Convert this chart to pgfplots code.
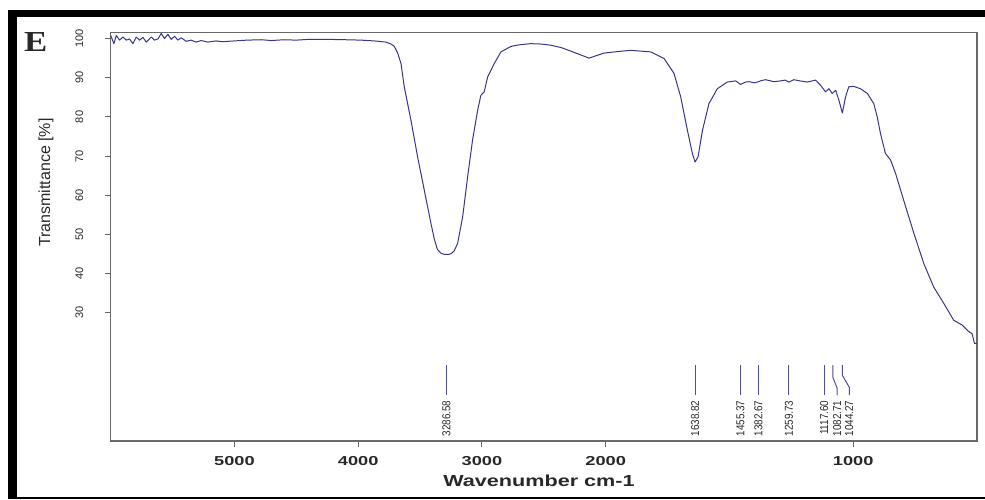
\documentclass[border=0pt]{standalone}
\usepackage{fontspec}
\setmainfont{Liberation Sans}
\newfontfamily\serifE{Liberation Serif}
\usepackage{pgfplots}
\pgfplotsset{compat=1.18}
\definecolor{spec}{RGB}{55,55,135}
\definecolor{peak}{RGB}{80,80,145}
\definecolor{axgray}{RGB}{105,105,105}
\definecolor{txt}{RGB}{40,40,40}
\tikzset{pk/.style={pos=1, yshift=-5pt, rotate=90, anchor=east, xscale=0.86,
  inner sep=0pt, text=txt, font=\fontsize{11.5}{12}\selectfont}}

\begin{document}
\begin{tikzpicture}
\useasboundingbox (0pt,0pt) rectangle (985pt,499pt);
% black frame round the panel
\fill[black] (8.3pt,481.7pt) rectangle (985pt,489pt);
\fill[black] (8.3pt,0pt) rectangle (16.7pt,489pt);
\fill[black] (8.3pt,0pt) rectangle (985pt,2.4pt);
\node[font=\serifE\bfseries\fontsize{29}{30}\selectfont, xscale=1.2, text=txt] at (35.8pt,457.3pt) {E};
\node[rotate=90, font=\fontsize{16}{18}\selectfont, text=txt] at (46pt,316.5pt) {Transmittance [\%]};
\node[anchor=base, font=\bfseries\fontsize{16}{18}\selectfont, xscale=1.35, text=txt] at (539pt,12.3pt) {Wavenumber cm-1};

\begin{axis}[
  at={(110.7pt,58pt)}, anchor=south west,
  scale only axis, width=866.3pt, height=408.7pt,
  x dir=reverse,
  % wavenumbers above 2000 are drawn at half scale
  x filter/.expression={x>2000 ? 2000+(x-2000)/2 : x},
  xmin=500, xmax=4000,
  ymin=-2.7, ymax=101.6,
  xtick={1000,2000,2500,3000,3500},
  xticklabels={1000,2000,3000,4000,5000},
  ytick={30,40,50,60,70,80,90,100},
  tick pos=left,
  tick align=outside,
  major tick length=6pt,
  tick style={axgray, line width=1pt},
  axis line style={axgray, line width=1.2pt},
  /pgf/number format/assume math mode=true,
  xticklabel style={font=\bfseries\fontsize{13}{14}\selectfont, xscale=1.4, text=txt},
  yticklabel style={font=\fontsize{11}{12}\selectfont, rotate=90, anchor=south, text=txt},
  xticklabel shift=6pt,
  yticklabel shift=18pt,
]
\addplot[spec, line width=1pt, line join=round] coordinates {
(6000,100.8) (5974,98.7) (5955,100.8) (5928,99.6) (5901,100.4) (5874,99.6)
(5848,99.9) (5820,98.7) (5794,100.4) (5767,99.6) (5739,100.3) (5713,99.1)
(5672,100.4) (5646,99.6) (5618,99.9) (5592,101.3) (5565,100.0) (5538,101.1)
(5511,99.8) (5484,100.6) (5457,99.6) (5430,100.2) (5390,99.3) (5350,99.6)
(5309,99.1) (5269,99.5) (5215,99.1) (5150,99.4) (5100,99.2) (5000,99.4)
(4900,99.6) (4784,99.7) (4700,99.5) (4600,99.7) (4500,99.6) (4400,99.8)
(4246,99.8) (4100,99.7) (3977,99.6) (3870,99.4) (3775,99.1) (3735,98.6)
(3708,98.0) (3681,96.3) (3654,93.6) (3628,87.7) (3574,79.2) (3520,69.8)
(3466,61.3) (3412,52.8) (3385,48.8) (3360,46.2) (3331,45.2) (3300,44.9)
(3270,44.9) (3250,45.1) (3225,45.8) (3197,47.7) (3156,54.5) (3116,64.7)
(3076,74.1) (3035,81.7) (3009,85.5) (2982,86.4) (2954,90.2) (2901,93.6)
(2847,96.6) (2766,98.0) (2700,98.4) (2605,98.7) (2520,98.6) (2443,98.3)
(2360,97.7) (2282,96.8) (2200,95.8) (2134,95.0) (2080,95.6) (2013,96.3)
(1950,96.7) (1899,97.0) (1818,96.6) (1764,94.9) (1724,91.1) (1697,85.1)
(1670,76.6) (1650,70.7) (1639,68.5) (1627,69.8) (1609,76.6) (1583,83.4)
(1549,87.2) (1509,88.9) (1475,89.2) (1455,88.3) (1435,88.9) (1420,89.0)
(1400,88.7) (1387,88.9) (1370,89.3) (1354,89.5) (1320,89.0) (1293,89.2)
(1275,89.4) (1260,88.9) (1240,89.5) (1215,89.2) (1186,88.9) (1152,89.4)
(1132,88.1) (1112,86.4) (1098,87.2) (1085,86.0) (1071,86.8) (1058,84.3)
(1044,81.0) (1031,85.1) (1018,87.7) (998,87.8) (971,87.2) (943,86.0)
(917,83.4) (903,80.0) (890,75.8) (870,70.7) (849,69.0) (829,65.6)
(796,58.7) (755,50.3) (715,42.6) (675,36.6) (634,32.4) (594,28.1)
(560,26.9) (533,25.2) (520,24.7) (510,22.2) (500,22.2)
};
% peak markers
\addplot[peak, line width=1pt] coordinates {(3286.58,16.66) (3286.58,9.0)} node[pk] {3286.58};
\addplot[peak, line width=1pt] coordinates {(1638.82,16.66) (1638.82,9.0)} node[pk] {1638.82};
\addplot[peak, line width=1pt] coordinates {(1455.37,16.66) (1455.37,9.0)} node[pk] {1455.37};
\addplot[peak, line width=1pt] coordinates {(1382.67,16.66) (1382.67,9.0)} node[pk] {1382.67};
\addplot[peak, line width=1pt] coordinates {(1259.73,16.66) (1259.73,9.0)} node[pk] {1259.73};
\addplot[peak, line width=1pt] coordinates {(1117.60,16.66) (1117.60,9.0)} node[pk] {1117.60};
\addplot[peak, line width=1pt] coordinates {(1082.71,16.66) (1082.71,13.6) (1065,10.8) (1065,9.0)} node[pk] {1082.71};
\addplot[peak, line width=1pt] coordinates {(1044.27,16.66) (1044.27,14.1) (1016,11.0) (1016,9.0)} node[pk] {1044.27};
\end{axis}
\end{tikzpicture}
\end{document}
